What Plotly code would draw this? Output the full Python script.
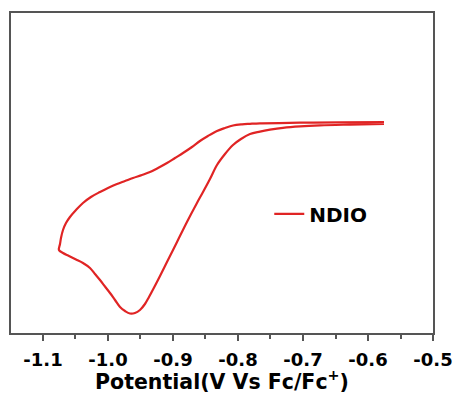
import plotly.graph_objects as go

# Cathodic (forward) sweep: from -0.575 V toward -1.075 V
fwd_potential = [-0.5754, -0.6277, -0.6738, -0.7046, -0.7308, -0.7508, -0.7662, -0.7815,
                 -0.7954, -0.8077, -0.8200, -0.8323, -0.8431, -0.8538, -0.8631, -0.8785,
                 -0.8938, -0.9077, -0.9231, -0.9369, -0.9431, -0.9508, -0.9585, -0.9662,
                 -0.9738, -0.9815, -0.9892, -0.9969, -1.0046, -1.0123, -1.0200, -1.0277,
                 -1.0385, -1.0492, -1.0600, -1.0692, -1.0754]
fwd_current = [-0.2, -0.26, -0.33, -0.43, -0.58, -0.77, -0.96, -1.2,
               -1.7, -2.3, -3.2, -4.3, -5.7, -7.0, -8.1, -10.0,
               -12.0, -13.8, -15.8, -17.5, -18.2, -18.8, -19.1, -19.15,
               -18.9, -18.5, -17.8, -17.1, -16.45, -15.8, -15.2, -14.6,
               -14.1, -13.75, -13.4, -13.1, -12.8]

# Reverse (anodic) sweep: back from -1.075 V to -0.575 V
rev_potential = [-1.0738, -1.0723, -1.0692, -1.0646, -1.0585, -1.0492, -1.0385, -1.0262,
                 -1.0123, -1.0000, -0.9862, -0.9738, -0.9615, -0.9477, -0.9354, -0.9231,
                 -0.9092, -0.8969, -0.8846, -0.8708, -0.8585, -0.8462, -0.8323, -0.8200,
                 -0.8077, -0.7938, -0.7815, -0.7662, -0.7046, -0.6431, -0.5754]
rev_current = [-12.2, -11.6, -10.8, -10.1, -9.5, -8.8, -8.1, -7.5,
               -7.0, -6.6, -6.2, -5.9, -5.6, -5.3, -5.0, -4.6,
               -4.1, -3.6, -3.1, -2.5, -1.9, -1.4, -0.9, -0.6,
               -0.35, -0.23, -0.18, -0.13, -0.07, -0.03, 0.0]

tick_vals = [-1.1, -1.0, -0.9, -0.8, -0.7, -0.6, -0.5]
tick_text = ["-1.1", "-1.0", "-0.9", "-0.8", "-0.7", "-0.6", "-0.5"]

potential = fwd_potential + rev_potential
current = fwd_current + rev_current

FONT = "DejaVu Sans"

fig = go.Figure()
fig.add_trace(go.Scatter(
    x=potential, y=current, mode="lines", name="NDIO",
    line=dict(color="#e02424", width=2.2, shape="spline", smoothing=1.0),
))

frame = dict(showline=True, linecolor="#555555", linewidth=1.5, mirror=True,
             showgrid=False, zeroline=False, automargin=False)

fig.update_layout(
    width=457, height=394,
    margin=dict(l=11, r=24, t=13, b=61),
    paper_bgcolor="white", plot_bgcolor="white",
    showlegend=True,
    legend=dict(x=0.612, y=0.372, xanchor="left", yanchor="middle",
                bgcolor="rgba(0,0,0,0)", itemwidth=30,
                font=dict(family=FONT, size=20, color="black", weight="bold")),
    xaxis=dict(range=[-1.1492, -0.5], tickvals=tick_vals, ticktext=tick_text,
               ticks="outside", ticklen=6, tickwidth=1.5, tickcolor="#555555",
               minor=dict(ticks="outside", ticklen=4, dtick=0.05, tickcolor="#555555", tickwidth=1.5),
               ticklabelstandoff=4,
               tickfont=dict(family=FONT, size=18, color="black", weight="bold"),
               title=dict(text="Potential(V Vs Fc/Fc<sup>+</sup>)", standoff=4,
                          font=dict(family=FONT, size=20.5, color="black", weight="bold")),
               **frame),
    yaxis=dict(range=[-21.1, 10.9], showticklabels=False, ticks="", **frame),
)

fig.write_html("out.html")
